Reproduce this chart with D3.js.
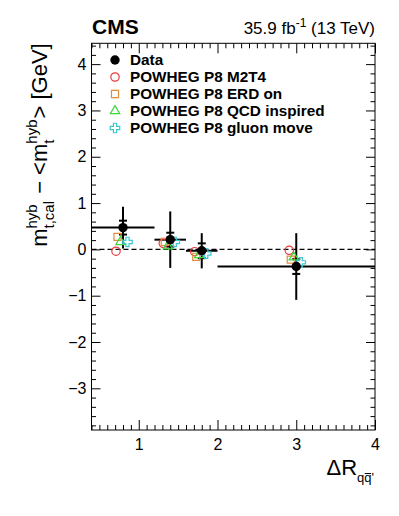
<!DOCTYPE html>
<html lang="en">
<head>
<meta charset="utf-8">
<style>
  body { margin: 0; background: #fff; }
  svg text { font-family: "Liberation Sans", Arial, Helvetica, sans-serif; fill: #000; }
</style>
<title>m_t,cal vs dR</title>
</head>
<body>
<div id="chart"></div>
<script src="https://d3js.org/d3.v7.min.js"></script>
<script>
// bins of Delta R(q qbar')
const binLo = [0.4, 1.2, 1.6, 2.0];
const binHi = [1.2, 1.6, 2.0, 4.0];
const binCenter = [0.8, 1.4, 1.8, 3.0];

// data
const dataY = [0.47, 0.21, -0.03, -0.37];
const dataErrTot = [0.45, 0.61, 0.38, 0.72];
const dataErrStat = [0.15, 0.15, 0.16, 0.16];

// simulation
const m2t4 = [-0.04, 0.13, -0.05, -0.02];
const erdOn = [0.27, 0.16, -0.16, -0.22];
const qcdInspired = [0.16, 0.07, -0.12, -0.17];
const gluonMove = [0.16, 0.16, -0.09, -0.28];

const xTicks = [1, 2, 3, 4];
const yTicks = [-3, -2, -1, 0, 1, 2, 3, 4];

const legendLabels = ["Data", "POWHEG P8 M2T4", "POWHEG P8 ERD on",
                      "POWHEG P8 QCD inspired", "POWHEG P8 gluon move"];

const W = 399, H = 516;
const pLeft = 91.5, pRight = 375, pTop = 43.3, pBottom = 430;

const svg = d3.select("#chart").append("svg")
    .attr("width", W).attr("height", H);

const x = d3.scaleLinear().domain([0.4, 4]).range([pLeft, pRight]);
const y = d3.scaleLinear().domain([-3.9, 4.45]).range([pBottom, pTop]);

// minor ticks
const xMinor = d3.range(4, 41).map(d => d / 10).filter(d => !xTicks.includes(d));
const yMinor = d3.range(-19, 23).map(d => d / 5).filter(d => !yTicks.includes(d) && d >= -3.9 && d <= 4.45);

function tickAxis(axis, tr) {
    const g = svg.append("g").attr("transform", tr).call(axis);
    g.select(".domain").remove();
    g.selectAll("line").attr("stroke", "#000");
    return g;
}

// bottom
const gx = tickAxis(d3.axisBottom(x).tickValues(xTicks).tickSize(-10).tickPadding(9).tickFormat(d3.format("d")),
    `translate(0,${pBottom})`);
gx.selectAll("text").attr("font-size", 16);
tickAxis(d3.axisBottom(x).tickValues(xMinor).tickSize(-5).tickFormat(""), `translate(0,${pBottom})`);
// top
tickAxis(d3.axisTop(x).tickValues(xTicks).tickSize(-10).tickFormat(""), `translate(0,${pTop})`);
tickAxis(d3.axisTop(x).tickValues(xMinor).tickSize(-5).tickFormat(""), `translate(0,${pTop})`);
// left
const gy = tickAxis(d3.axisLeft(y).tickValues(yTicks).tickSize(-9).tickPadding(5).tickFormat(d3.format("d")),
    `translate(${pLeft},0)`);
gy.selectAll("text").attr("font-size", 16);
tickAxis(d3.axisLeft(y).tickValues(yMinor).tickSize(-4.5).tickFormat(""), `translate(${pLeft},0)`);
// right
tickAxis(d3.axisRight(y).tickValues(yTicks).tickSize(-9).tickFormat(""), `translate(${pRight},0)`);
tickAxis(d3.axisRight(y).tickValues(yMinor).tickSize(-4.5).tickFormat(""), `translate(${pRight},0)`);

svg.append("rect")
    .attr("x", pLeft).attr("y", pTop)
    .attr("width", pRight - pLeft).attr("height", pBottom - pTop)
    .attr("fill", "none").attr("stroke", "#000").attr("stroke-width", 1);

// zero line
svg.append("line")
    .attr("x1", pLeft).attr("x2", pRight)
    .attr("y1", y(0)).attr("y2", y(0))
    .attr("stroke", "#000").attr("stroke-width", 1.3)
    .attr("stroke-dasharray", "5,3");

// data error bars
const idx = d3.range(binCenter.length);
const bars = svg.append("g").attr("stroke", "#000").attr("stroke-width", 2);
bars.selectAll(".hbar").data(idx).join("line")
    .attr("x1", i => x(binLo[i])).attr("x2", i => x(binHi[i]))
    .attr("y1", i => y(dataY[i])).attr("y2", i => y(dataY[i]));
bars.selectAll(".vbar").data(idx).join("line")
    .attr("x1", i => x(binCenter[i])).attr("x2", i => x(binCenter[i]))
    .attr("y1", i => y(dataY[i] + dataErrTot[i])).attr("y2", i => y(dataY[i] - dataErrTot[i]));
idx.forEach(i => {
    [1, -1].forEach(s => {
        bars.append("line")
            .attr("x1", x(binCenter[i]) - 4).attr("x2", x(binCenter[i]) + 4)
            .attr("y1", y(dataY[i] + s * dataErrStat[i])).attr("y2", y(dataY[i] + s * dataErrStat[i]));
    });
});

// simulation markers
const series = [
    { vals: m2t4, color: "#e8383d", sym: d3.symbolCircle, size: 55, dx: -7 },
    { vals: erdOn, color: "#e08b3e", sym: d3.symbolSquare, size: 50, dx: -5.5 },
    { vals: qcdInspired, color: "#3ad83a", sym: d3.symbolTriangle, size: 38, dx: -2.5 },
    { vals: gluonMove, color: "#3cc8d4", sym: d3.symbolCross, size: 50, dx: 4.5 }
];

series.forEach(s => {
    svg.append("g").selectAll("path").data(idx).join("path")
        .attr("transform", i => `translate(${x(binCenter[i]) + s.dx},${y(s.vals[i])})`)
        .attr("d", d3.symbol(s.sym, s.size))
        .attr("fill", "none").attr("stroke", s.color).attr("stroke-width", 1.2);
});

// data points
svg.append("g").selectAll("circle").data(idx).join("circle")
    .attr("cx", i => x(binCenter[i])).attr("cy", i => y(dataY[i]))
    .attr("r", 4.7).attr("fill", "#000");

// legend
const leg = svg.append("g");
const legY0 = 60, legDy = 17, legMx = 115, legTx = 130;
legendLabels.forEach((lab, k) => {
    const cy = legY0 + k * legDy;
    if (k === 0) {
        leg.append("circle").attr("cx", legMx).attr("cy", cy).attr("r", 4.7).attr("fill", "#000");
    } else {
        const s = series[k - 1];
        leg.append("path")
            .attr("transform", `translate(${legMx},${cy})`)
            .attr("d", d3.symbol(s.sym, s.size))
            .attr("fill", "none").attr("stroke", s.color).attr("stroke-width", 1.2);
    }
    leg.append("text").attr("x", legTx).attr("y", cy + 5.4)
        .attr("font-size", 15.3).attr("font-weight", "bold").text(lab);
});

// header
svg.append("text").attr("x", 92).attr("y", 33.5)
    .attr("font-size", 21).attr("font-weight", "bold").text("CMS");
const lumi = svg.append("text").attr("x", pRight).attr("y", 34)
    .attr("font-size", 17).attr("text-anchor", "end");
lumi.append("tspan").text("35.9 fb");
lumi.append("tspan").attr("font-size", 12).attr("dy", -7).text("-1");
lumi.append("tspan").attr("dy", 7).text(" (13 TeV)");

// composite label with stacked sub/superscripts, laid out left to right
function richLabel(g, pieces, big, small) {
    let cx = 0;
    pieces.forEach(p => {
        if (typeof p === "string") {
            const t = g.append("text").attr("x", cx).attr("y", 0).attr("font-size", big)
                .style("white-space", "pre").text(p);
            cx += t.node().getComputedTextLength();
        } else {
            let w = 0;
            if (p.sup) {
                const t = g.append("text").attr("x", cx).attr("y", -big * 0.45).attr("font-size", small).text(p.sup);
                w = Math.max(w, t.node().getComputedTextLength());
            }
            if (p.sub) {
                const t = g.append("text").attr("x", cx).attr("y", big * 0.3).attr("font-size", small).text(p.sub);
                if (p.bar !== undefined) {
                    // overline over one character
                    const n = t.node();
                    const a = n.getStartPositionOfChar(p.bar).x, b = n.getEndPositionOfChar(p.bar).x;
                    g.append("line").attr("x1", a + 0.5).attr("x2", b - 0.5)
                        .attr("y1", big * 0.3 - small * 0.62).attr("y2", big * 0.3 - small * 0.62)
                        .attr("stroke", "#000").attr("stroke-width", 1);
                }
                w = Math.max(w, t.node().getComputedTextLength());
            }
            cx += w + 1;
        }
    });
    return cx;
}

// y title (rotated, right-aligned to top of frame)
const yt = svg.append("g");
const ytLen = richLabel(yt.append("g"), ["m", { sup: "hyb", sub: "t,cal" }, " \u2212 <m", { sup: "hyb", sub: "t" }, "> [GeV]"], 22, 15);
yt.attr("transform", `translate(47,${pTop + ytLen}) rotate(-90)`);

// x title (right aligned)
const xt = svg.append("g");
const xtLen = richLabel(xt.append("g"), ["\u0394R", { sub: "qq'", bar: 1 }], 22, 13);
xt.attr("transform", `translate(${pRight - xtLen},475)`);
</script>
</body>
</html>
